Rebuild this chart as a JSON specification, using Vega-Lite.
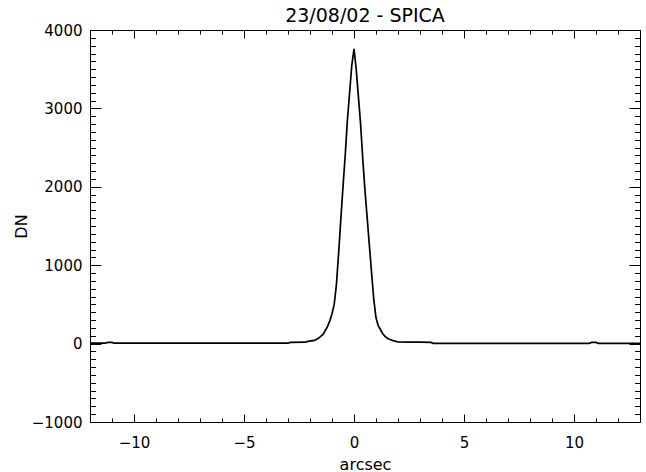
{
  "$schema": "https://vega.github.io/schema/vega-lite/v6.json",
  "width": 550,
  "height": 392,
  "autosize": "none",
  "padding": {"left": 90, "top": 30, "right": 6, "bottom": 50},
  "background": "white",
  "title": {"text": "23/08/02 - SPICA", "font": "DejaVu Sans", "fontSize": 19, "fontWeight": "normal", "color": "black", "anchor": "middle", "offset": -3},
  "config": {
    "view": {"stroke": null},
    "axis": {"domainColor": "black", "domainWidth": 1, "tickColor": "black", "tickWidth": 1, "labelFont": "DejaVu Sans", "labelFontSize": 15, "labelColor": "black", "titleFont": "DejaVu Sans", "titleFontSize": 16, "titleFontWeight": "normal", "titleColor": "black", "grid": false}
  },
  "data": {"values": [
    {"arcsec": -12.0, "DN": 5},
    {"arcsec": -11.3, "DN": 5},
    {"arcsec": -11.2, "DN": 15},
    {"arcsec": -11.0, "DN": 15},
    {"arcsec": -10.9, "DN": 5},
    {"arcsec": -3.0, "DN": 5},
    {"arcsec": -2.9, "DN": 15},
    {"arcsec": -2.2, "DN": 18},
    {"arcsec": -2.1, "DN": 28},
    {"arcsec": -1.8, "DN": 40},
    {"arcsec": -1.6, "DN": 70},
    {"arcsec": -1.4, "DN": 120},
    {"arcsec": -1.3, "DN": 170},
    {"arcsec": -1.2, "DN": 220},
    {"arcsec": -1.1, "DN": 290},
    {"arcsec": -1.0, "DN": 380},
    {"arcsec": -0.9, "DN": 500},
    {"arcsec": -0.8, "DN": 750},
    {"arcsec": -0.7, "DN": 1150},
    {"arcsec": -0.6, "DN": 1580},
    {"arcsec": -0.5, "DN": 2000},
    {"arcsec": -0.4, "DN": 2400},
    {"arcsec": -0.3, "DN": 2850},
    {"arcsec": -0.2, "DN": 3200},
    {"arcsec": -0.1, "DN": 3550},
    {"arcsec": 0.0, "DN": 3760},
    {"arcsec": 0.1, "DN": 3500},
    {"arcsec": 0.2, "DN": 3150},
    {"arcsec": 0.3, "DN": 2800},
    {"arcsec": 0.4, "DN": 2350},
    {"arcsec": 0.5, "DN": 1950},
    {"arcsec": 0.6, "DN": 1600},
    {"arcsec": 0.7, "DN": 1250},
    {"arcsec": 0.8, "DN": 900},
    {"arcsec": 0.9, "DN": 560},
    {"arcsec": 1.0, "DN": 330},
    {"arcsec": 1.1, "DN": 230},
    {"arcsec": 1.2, "DN": 180},
    {"arcsec": 1.3, "DN": 130},
    {"arcsec": 1.4, "DN": 95},
    {"arcsec": 1.5, "DN": 70},
    {"arcsec": 1.6, "DN": 55},
    {"arcsec": 1.7, "DN": 45},
    {"arcsec": 1.8, "DN": 35},
    {"arcsec": 1.9, "DN": 28},
    {"arcsec": 2.0, "DN": 22},
    {"arcsec": 2.5, "DN": 20},
    {"arcsec": 3.0, "DN": 18},
    {"arcsec": 3.5, "DN": 15},
    {"arcsec": 3.6, "DN": 3},
    {"arcsec": 10.7, "DN": 3},
    {"arcsec": 10.8, "DN": 15},
    {"arcsec": 11.0, "DN": 15},
    {"arcsec": 11.1, "DN": 3},
    {"arcsec": 13.0, "DN": 3}
  ]},
  "layer": [
    {
      "mark": {"type": "line", "color": "black", "strokeWidth": 1.7, "clip": true},
      "encoding": {
        "x": {"field": "arcsec", "type": "quantitative", "scale": {"domain": [-12, 13], "nice": false, "zero": false},
              "axis": {"orient": "bottom", "values": [-10, -5, 0, 5, 10], "format": "d", "tickSize": -8, "labelPadding": 21, "title": "arcsec", "titlePadding": 6}},
        "y": {"field": "DN", "type": "quantitative", "scale": {"domain": [-1000, 4000], "nice": false, "zero": false},
              "axis": {"orient": "left", "values": [-1000, 0, 1000, 2000, 3000, 4000], "format": "d", "tickSize": -11, "labelPadding": 19, "title": "DN", "titlePadding": 2}}
      }
    },
    {
      "mark": {"type": "line", "opacity": 0},
      "encoding": {
        "x": {"field": "arcsec", "type": "quantitative", "axis": {"orient": "top", "values": [-10, -5, 0, 5, 10], "tickSize": -8, "labels": false, "title": null}},
        "y": {"field": "DN", "type": "quantitative", "axis": {"orient": "right", "values": [-1000, 0, 1000, 2000, 3000, 4000], "tickSize": -11, "labels": false, "title": null}}
      }
    },
    {
      "mark": {"type": "line", "opacity": 0},
      "encoding": {
        "x": {"field": "arcsec", "type": "quantitative", "axis": {"orient": "bottom", "values": [-12, -11, -9, -8, -7, -6, -4, -3, -2, -1, 1, 2, 3, 4, 6, 7, 8, 9, 11, 12, 13], "tickSize": -4, "labels": false, "domain": false, "title": null}},
        "y": {"field": "DN", "type": "quantitative", "axis": {"orient": "left", "values": [-900, -800, -700, -600, -500, -400, -300, -200, -100, 100, 200, 300, 400, 500, 600, 700, 800, 900, 1100, 1200, 1300, 1400, 1500, 1600, 1700, 1800, 1900, 2100, 2200, 2300, 2400, 2500, 2600, 2700, 2800, 2900, 3100, 3200, 3300, 3400, 3500, 3600, 3700, 3800, 3900], "tickSize": -5.5, "labels": false, "domain": false, "title": null}}
      }
    },
    {
      "mark": {"type": "line", "opacity": 0},
      "encoding": {
        "x": {"field": "arcsec", "type": "quantitative", "axis": {"orient": "top", "values": [-12, -11, -9, -8, -7, -6, -4, -3, -2, -1, 1, 2, 3, 4, 6, 7, 8, 9, 11, 12, 13], "tickSize": -4, "labels": false, "domain": false, "title": null}},
        "y": {"field": "DN", "type": "quantitative", "axis": {"orient": "right", "values": [-900, -800, -700, -600, -500, -400, -300, -200, -100, 100, 200, 300, 400, 500, 600, 700, 800, 900, 1100, 1200, 1300, 1400, 1500, 1600, 1700, 1800, 1900, 2100, 2200, 2300, 2400, 2500, 2600, 2700, 2800, 2900, 3100, 3200, 3300, 3400, 3500, 3600, 3700, 3800, 3900], "tickSize": -5.5, "labels": false, "domain": false, "title": null}}
      }
    }
  ],
  "resolve": {"axis": {"x": "independent", "y": "independent"}}
}
